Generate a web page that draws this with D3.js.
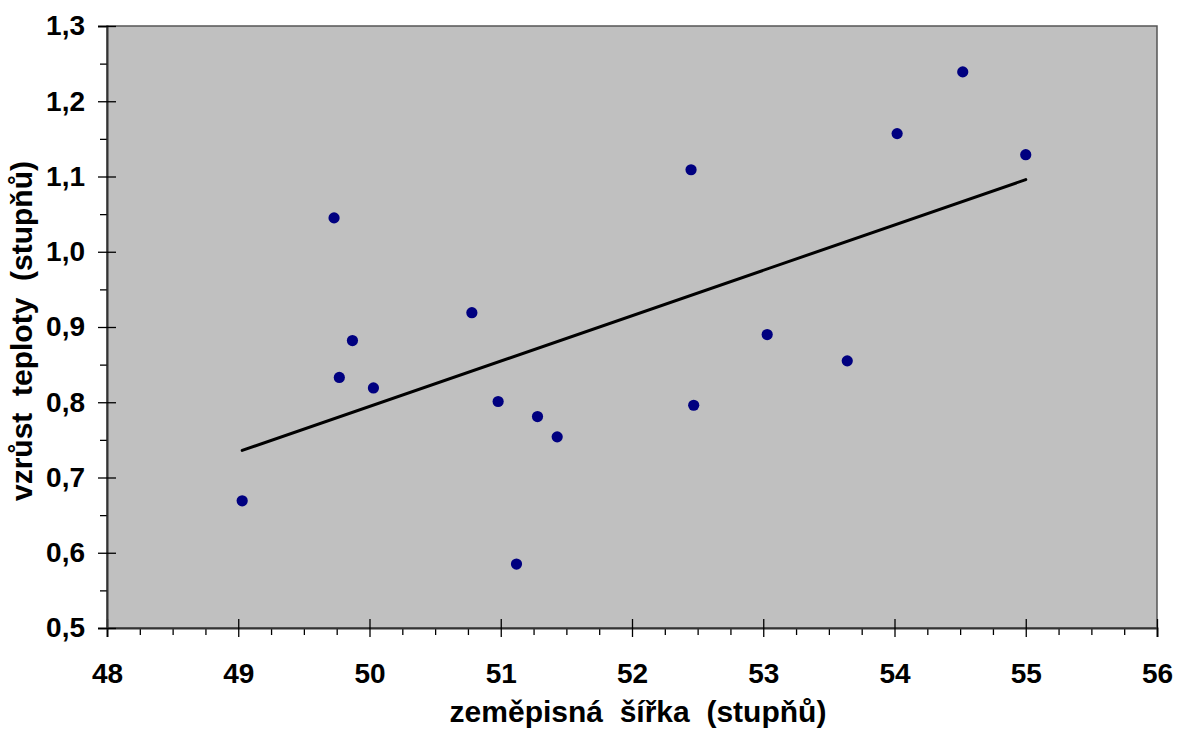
<!DOCTYPE html>
<html>
<head>
<meta charset="utf-8">
<script src="https://cdn.jsdelivr.net/npm/d3@7"></script>
<style>
  body { margin: 0; background: #fff; }
  text { font-family: Arial, "Liberation Sans", sans-serif; font-weight: bold; fill: #000; }
</style>
</head>
<body>
<div id="chart"></div>
<script>
// zeměpisná šířka (stupňů)
var latitude = [49.03, 49.73, 49.77, 49.87, 50.03, 50.78, 50.98, 51.12, 51.28, 51.43,
                52.45, 52.47, 53.03, 53.64, 54.02, 54.52, 55.00];
// vzrůst teploty (stupňů)
var warming = [0.669, 1.045, 0.833, 0.882, 0.819, 0.919, 0.801, 0.585, 0.781, 0.754,
               1.109, 0.796, 0.890, 0.855, 1.157, 1.239, 1.129];

var xTicks = [48, 49, 50, 51, 52, 53, 54, 55, 56];
var yTicks = [0.5, 0.6, 0.7, 0.8, 0.9, 1.0, 1.1, 1.2, 1.3];

var width = 1177;
var height = 730;
var margin = { top: 26, right: 20, bottom: 102, left: 107 };

var svg = d3.select('#chart')
    .append('svg')
    .attr('width', width)
    .attr('height', height);

var x = d3.scaleLinear().domain([48, 56]).range([margin.left, width - margin.right]);
var y = d3.scaleLinear().domain([0.5, 1.3]).range([height - margin.bottom, margin.top]);

var fmt = function (d) { return d3.format('.1f')(d).replace('.', ','); };

// plot area
svg.append('rect')
    .attr('x', x(48))
    .attr('y', y(1.3))
    .attr('width', x(56) - x(48))
    .attr('height', y(0.5) - y(1.3))
    .attr('fill', '#c0c0c0')
    .attr('stroke', '#555')
    .attr('stroke-width', 1.5);

// minor ticks (outside only)
var xMinor = d3.range(48, 56.001, 0.25).filter(function (d) { return Math.abs(d - Math.round(d)) > 0.01; });
var yMinor = d3.range(0.55, 1.3, 0.1);

svg.append('g')
    .attr('transform', 'translate(0,' + y(0.5) + ')')
    .call(d3.axisBottom(x).tickValues(xMinor).tickSize(7).tickFormat(''))
    .call(function (g) { g.select('.domain').remove(); });

svg.append('g')
    .attr('transform', 'translate(' + x(48) + ',0)')
    .call(d3.axisLeft(y).tickValues(yMinor).tickSize(7).tickFormat(''))
    .call(function (g) { g.select('.domain').remove(); });

// major axes, ticks crossing the axis
var xAxis = svg.append('g')
    .attr('transform', 'translate(0,' + y(0.5) + ')')
    .call(d3.axisBottom(x).tickValues(xTicks).tickSize(9).tickPadding(26).tickFormat(d3.format('d')));
xAxis.selectAll('.tick line').attr('y1', -9);
xAxis.select('.domain').attr('stroke', '#333').attr('stroke-width', 2);
xAxis.selectAll('text').style('font-size', '28px');

var yAxis = svg.append('g')
    .attr('transform', 'translate(' + x(48) + ',0)')
    .call(d3.axisLeft(y).tickValues(yTicks).tickSize(9).tickPadding(13).tickFormat(fmt));
yAxis.selectAll('.tick line').attr('x1', 9);
yAxis.select('.domain').attr('stroke', '#333').attr('stroke-width', 2);
yAxis.selectAll('text').style('font-size', '28px');

svg.selectAll('.tick line').attr('stroke', '#000').attr('stroke-width', 1.3);

// least-squares trend line
var mx = d3.mean(latitude), my = d3.mean(warming);
var sxy = d3.sum(latitude, function (d, i) { return (d - mx) * (warming[i] - my); });
var sxx = d3.sum(latitude, function (d) { return (d - mx) * (d - mx); });
var slope = sxy / sxx;
var intercept = my - slope * mx;
var xExt = d3.extent(latitude);

svg.append('line')
    .attr('x1', x(xExt[0]))
    .attr('y1', y(intercept + slope * xExt[0]))
    .attr('x2', x(xExt[1]))
    .attr('y2', y(intercept + slope * xExt[1]))
    .attr('stroke', '#000')
    .attr('stroke-width', 3)
    .attr('stroke-linecap', 'round');

// points
svg.append('g')
    .selectAll('circle')
    .data(latitude)
    .enter()
    .append('circle')
    .attr('cx', function (d) { return x(d); })
    .attr('cy', function (d, i) { return y(warming[i]); })
    .attr('r', 5.6)
    .attr('fill', '#000080');

// axis titles
svg.append('text')
    .attr('x', (x(48) + x(56)) / 2 + 6)
    .attr('y', 722)
    .attr('text-anchor', 'middle')
    .style('font-size', '30px')
    .style('white-space', 'pre')
    .text('zeměpisná  šířka  (stupňů)');

svg.append('text')
    .attr('transform', 'translate(32,' + ((y(0.5) + y(1.3)) / 2 + 4) + ') rotate(-90)')
    .attr('text-anchor', 'middle')
    .style('font-size', '30px')
    .style('white-space', 'pre')
    .text('vzrůst  teploty  (stupňů)');
</script>
</body>
</html>
